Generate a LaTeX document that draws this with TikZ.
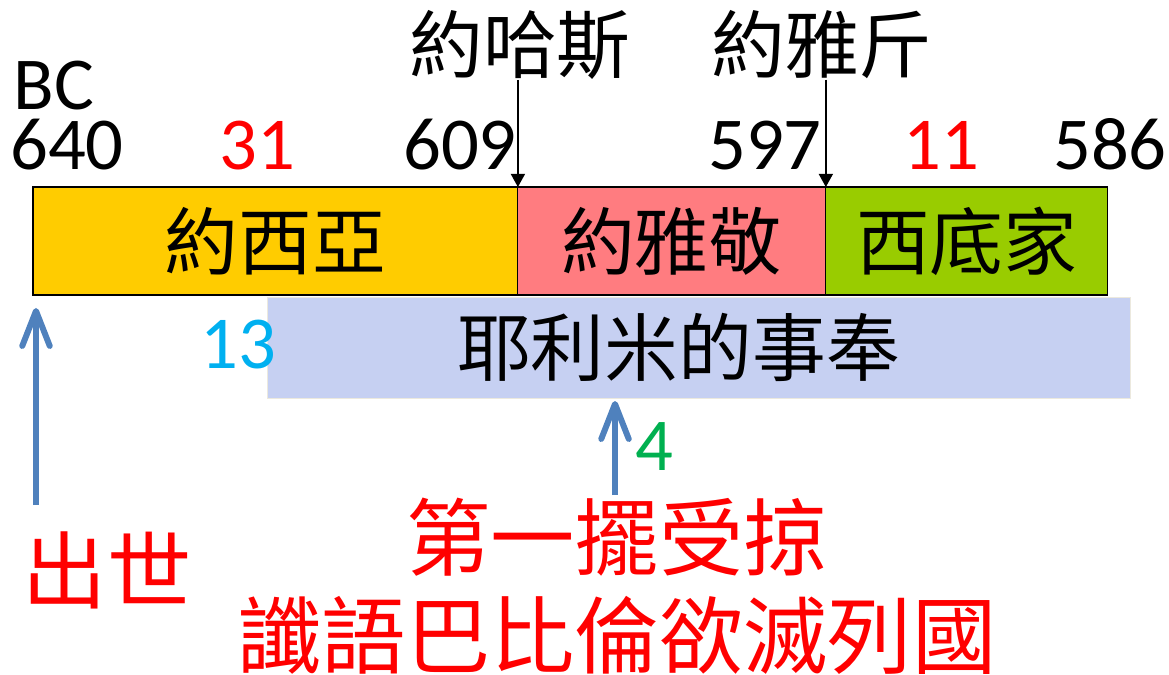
\documentclass[tikz,border=0pt]{standalone}
\usepackage{fontspec}
\setmainfont{Carlito}
\newfontfamily\cjk{Noto Sans CJK TC}
\usetikzlibrary{positioning,arrows.meta}
\definecolor{josiahc}{RGB}{255,204,0}
\definecolor{jehoiakimc}{RGB}{255,124,128}
\definecolor{zedekiahc}{RGB}{153,204,0}
\definecolor{tissue}{RGB}{198,208,242}
\definecolor{tissueedge}{RGB}{236,233,222}
\definecolor{arrowblue}{RGB}{79,129,189}
\definecolor{skyc}{RGB}{0,176,240}
\definecolor{greenc}{RGB}{0,176,80}
\tikzset{
  reign/.style={draw=black,semithick,fill=#1,minimum height=2.16cm,outer sep=0pt,inner sep=0pt,font=\cjk\fontsize{42}{48}\selectfont},
  yr/.style={anchor=base,font=\fontsize{42.5}{50}\selectfont},
  king/.style={inner sep=0pt,font=\cjk\fontsize{42}{48}\selectfont},
  note/.style={text=red,align=center,inner sep=0pt,font=\cjk\fontsize{48}{55.6}\selectfont},
  tiparr/.style={-{Triangle[length=2.6mm,width=2.8mm]},line width=0.8pt},
  uparr/.style={-{Straight Barb[length=7mm,width=5.5mm,round]},line width=3.4pt,draw=arrowblue},
}
\begin{document}
\begin{tikzpicture}[x=0.02cm,y=-0.02cm]
  \useasboundingbox (0,0) rectangle (1169,675);
  % reigns
  \node[reign=josiahc,minimum width=9.7cm,anchor=north west] (josiah) at (33,187) {約西亞};
  \node[reign=jehoiakimc,minimum width=6.16cm,right=0pt of josiah] (jehoiakim) {約雅敬};
  \node[reign=zedekiahc,minimum width=5.64cm,right=0pt of jehoiakim] (zedekiah) {西底家};
  % ministry
  \node[draw=tissueedge,fill=tissue,minimum width=17.26cm,minimum height=2.02cm,anchor=north west,
        font=\cjk\fontsize{42}{48}\selectfont] (jeremiah) at (267,297) {耶利米的事奉\hspace*{0.55em}};
  % years
  \node[yr] (bc) at (54,110) {BC};
  \node[yr] (y640) at (67,170) {640};
  \node[yr,text=red] (y31) at (257,170) {31};
  \node[yr] (y609) at (460,170) {609};
  \node[yr] (y597) at (765,170) {597};
  \node[yr,text=red] (y11) at (941,170) {11};
  \node[yr] (y586) at (1110,170) {586};
  % short reigns
  \node[king] (jehoahaz) at (520,45) {約哈斯};
  \node[king] (jehoiachin) at (822,45) {約雅斤};
  \draw[tiparr] (jehoiakim.north west |- jehoahaz.south) -- (jehoiakim.north west);
  \draw[tiparr] (zedekiah.north west |- jehoiachin.south) -- (zedekiah.north west);
  % events
  \node[yr,text=skyc] (n13) at (238,368) {13};
  \node[yr,text=greenc] (n4) at (654,470) {4};
  \coordinate (bornfoot) at (36,505);
  \coordinate (borntip) at (36,308);
  \draw[uparr] (bornfoot) -- (borntip);
  \coordinate (exilefoot) at (615,495);
  \coordinate (exiletip) at (615,401);
  \draw[uparr] (exilefoot) -- (exiletip);
  \node[note] (born) at (107,570) {出世};
  \node[note] (exile) at (617,586) {第一擺受掠\\讖語巴比倫欲滅列國};
\end{tikzpicture}
\end{document}
